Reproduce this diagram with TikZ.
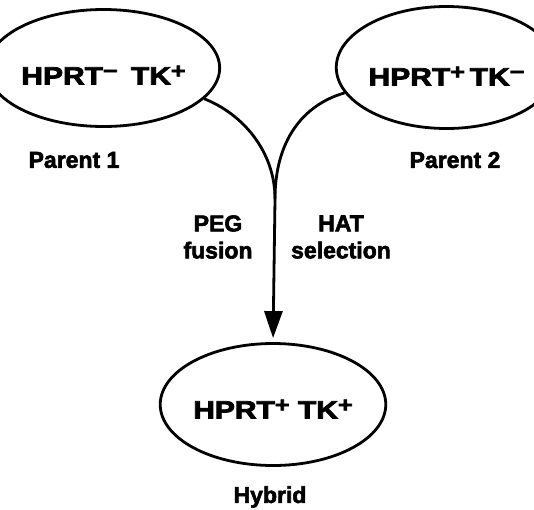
\documentclass[tikz,border=0pt]{standalone}
\usepackage{fontspec}
\usepackage{graphicx}
\setmainfont{Liberation Sans}[BoldFeatures={FakeBold=2.5}]
\newfontfamily\cellfont{Liberation Sans}[BoldFeatures={FakeBold=3}]
\usetikzlibrary{arrows.meta,shapes.geometric}

\newcommand\sgn[1]{\raisebox{6.5pt}{\fontsize{21}{21}\selectfont #1}}
\newcommand\wide[1]{\scalebox{1.2}[1]{#1}}

\begin{document}
\begin{tikzpicture}[x=1pt, y=-1pt, line width=2.8pt,
      cell/.style={draw, ellipse, inner sep=0pt, text depth=0pt,
         font=\cellfont\fontsize{25}{27}\selectfont\bfseries},
      tag/.style={inner sep=0pt, align=center,
         font=\fontsize{23}{27}\selectfont\bfseries}]

   \useasboundingbox (0,0) rectangle (534,509);

   % cells
   \node[cell, minimum width=184pt, minimum height=117pt, text height=33pt] (par1) at (103.5,68)
      {\wide{HPRT\sgn{−}\hspace{11pt}TK\sgn{+}}};
   \node[cell, minimum width=170pt, minimum height=122pt, text height=36pt] (par2) at (446.5,67.5)
      {\wide{HPRT\sgn{+}\hspace{4pt}TK\sgn{−}}};
   \node[cell, minimum width=177pt, minimum height=122pt, text height=28pt] (hyb) at (273,404.5)
      {\wide{HPRT\sgn{+}\hspace{7pt}TK\sgn{+}}};

   % labels
   \node[tag] (lab1) at (74,160) {Parent 1};
   \node[tag] (lab2) at (455,160) {Parent 2};
   \node[tag] (peg) at (218,237) {PEG\\fusion};
   \node[tag] (hat) at (341,237) {HAT\\selection};
   \node[tag] (labh) at (270,497) {Hybrid};

   % fusion
   \coordinate (merge) at (275,199);
   \draw (par1.-17) .. controls +(38,15) and +(0,-48) .. (merge);
   \draw (par2.194) .. controls +(-42,12) and +(0,-58) .. (merge);
   \draw[-{Triangle[length=27pt,width=18pt]}, shorten >=4pt] (merge) -- (hyb.north);
\end{tikzpicture}
\end{document}
